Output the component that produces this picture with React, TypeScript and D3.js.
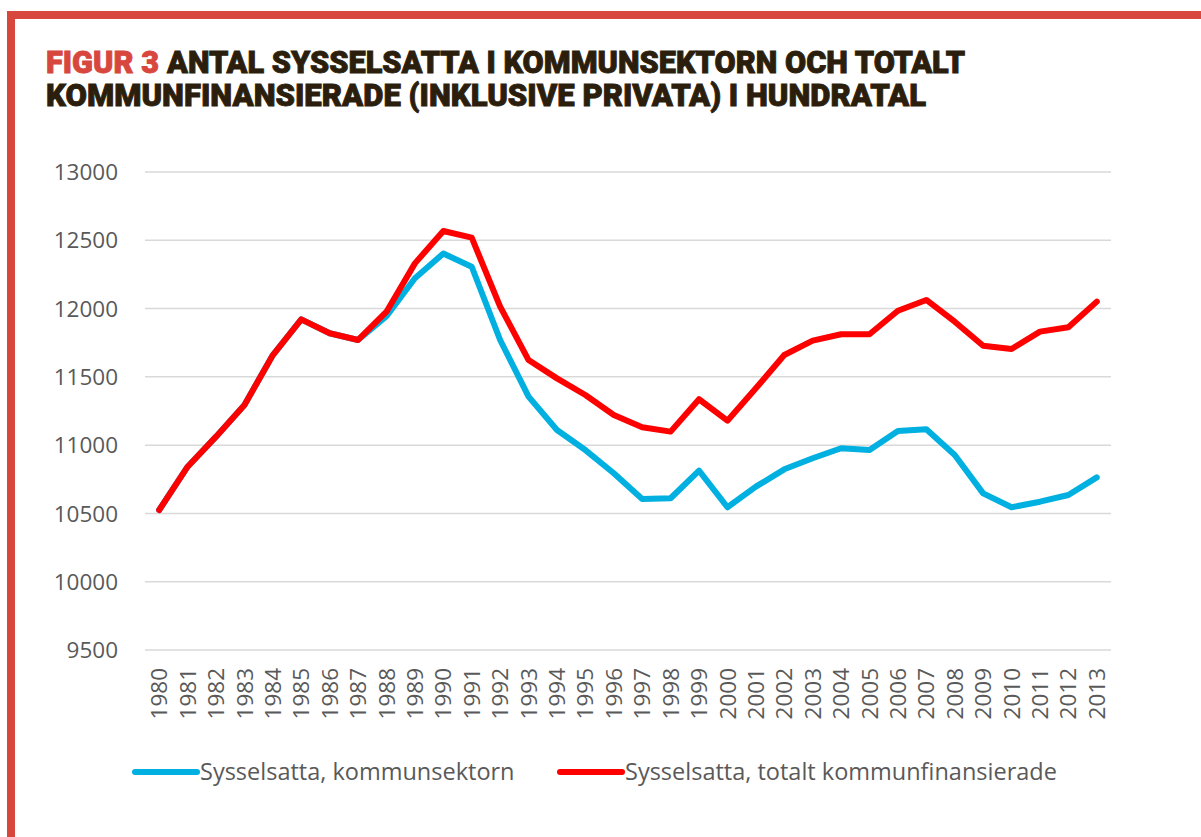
import * as d3 from "d3";

const YEARS = d3.range(1980, 2014).map(String);

const KOMMUNSEKTORN = [
  10525, 10842, 11062, 11294, 11660, 11921, 11819, 11770, 11945, 12222,
  12403, 12306, 11770, 11355, 11111, 10964, 10794, 10606, 10611, 10813,
  10545, 10696, 10823, 10904, 10977, 10964, 11103, 11116, 10928, 10647,
  10545, 10586, 10635, 10764,
];

const TOTALT = [
  10525, 10842, 11062, 11294, 11660, 11921, 11819, 11770, 11977, 12331,
  12568, 12519, 12014, 11623, 11489, 11367, 11221, 11131, 11099, 11336,
  11179, 11416, 11660, 11765, 11812, 11812, 11984, 12063, 11904, 11728,
  11704, 11831, 11863, 12051,
];

const Y_TICKS = [9500, 10000, 10500, 11000, 11500, 12000, 12500, 13000];

const SERIES = [
  { name: "Sysselsatta, kommunsektorn", values: KOMMUNSEKTORN, color: "#00b0e0" },
  { name: "Sysselsatta, totalt kommunfinansierade", values: TOTALT, color: "#ff0000" },
];

const WIDTH = 1201;
const HEIGHT = 837;
const PLOT = { left: 145, right: 1111, top: 172, bottom: 650 };
const BORDER = "#d8473d";
const TEXT = "#595959";
const FONT = "'Open Sans', 'Noto Sans', sans-serif";

export default function App() {
  const xScale = d3
    .scaleBand<string>()
    .domain(YEARS)
    .range([PLOT.left, PLOT.right]);
  const yScale = d3
    .scaleLinear()
    .domain([9500, 13000])
    .range([PLOT.bottom, PLOT.top]);

  const line = d3
    .line<number>()
    .x((_, i) => xScale(YEARS[i])! + xScale.bandwidth() / 2)
    .y((d) => yScale(d));

  const titleStyle = {
    fontFamily: "Roboto, 'Liberation Sans', sans-serif",
    fontWeight: 900,
    fontSize: "31px",
  };

  return (
    <svg
      width={WIDTH}
      height={HEIGHT}
      style={{ position: "absolute", left: 0, top: 0, background: "#fff" }}
    >
      {/* frame */}
      <rect x={7} y={11} width={WIDTH - 7} height={8} fill={BORDER} />
      <rect x={7} y={11} width={8} height={HEIGHT - 11} fill={BORDER} />

      {/* title */}
      <g style={titleStyle} strokeWidth={0.9}>
        <text x={46} y={73} fill={BORDER} stroke={BORDER} textLength={113} lengthAdjust="spacingAndGlyphs">
          FIGUR 3
        </text>
        <text x={167} y={73} fill="#2b1e0c" stroke="#2b1e0c" textLength={798} lengthAdjust="spacingAndGlyphs">
          ANTAL SYSSELSATTA I KOMMUNSEKTORN OCH TOTALT
        </text>
        <text x={46} y={106} fill="#2b1e0c" stroke="#2b1e0c" textLength={880} lengthAdjust="spacingAndGlyphs">
          KOMMUNFINANSIERADE (INKLUSIVE PRIVATA) I HUNDRATAL
        </text>
      </g>

      {/* grid + y labels */}
      {Y_TICKS.map((t) => (
        <g key={t}>
          <line
            x1={PLOT.left}
            x2={PLOT.right}
            y1={yScale(t)}
            y2={yScale(t)}
            stroke="#d9d9d9"
            strokeWidth={1.5}
          />
          <text
            x={118}
            y={yScale(t)}
            dy="0.36em"
            textAnchor="end"
            fill={TEXT}
            style={{ fontFamily: FONT, fontSize: "22.5px" }}
          >
            {t}
          </text>
        </g>
      ))}

      {/* x labels */}
      {YEARS.map((y) => {
        const cx = xScale(y)! + xScale.bandwidth() / 2;
        return (
          <text
            key={y}
            transform={`translate(${cx}, 668) rotate(-90)`}
            textAnchor="end"
            dy="0.36em"
            fill={TEXT}
            style={{ fontFamily: FONT, fontSize: "22.5px" }}
          >
            {y}
          </text>
        );
      })}

      {/* lines */}
      {SERIES.map((s) => (
        <path
          key={s.name}
          d={line(s.values) ?? ""}
          fill="none"
          stroke={s.color}
          strokeWidth={6}
          strokeLinejoin="round"
          strokeLinecap="round"
        />
      ))}

      {/* legend */}
      {SERIES.map((s, i) => {
        const x0 = i === 0 ? 135 : 560;
        return (
          <g key={s.name}>
            <line
              x1={x0}
              x2={x0 + 62}
              y1={772}
              y2={772}
              stroke={s.color}
              strokeWidth={6}
              strokeLinecap="round"
            />
            <text
              x={x0 + 65}
              y={772}
              dy="0.36em"
              fill={TEXT}
              style={{ fontFamily: FONT, fontSize: "23.5px" }}
            >
              {s.name}
            </text>
          </g>
        );
      })}
    </svg>
  );
}
